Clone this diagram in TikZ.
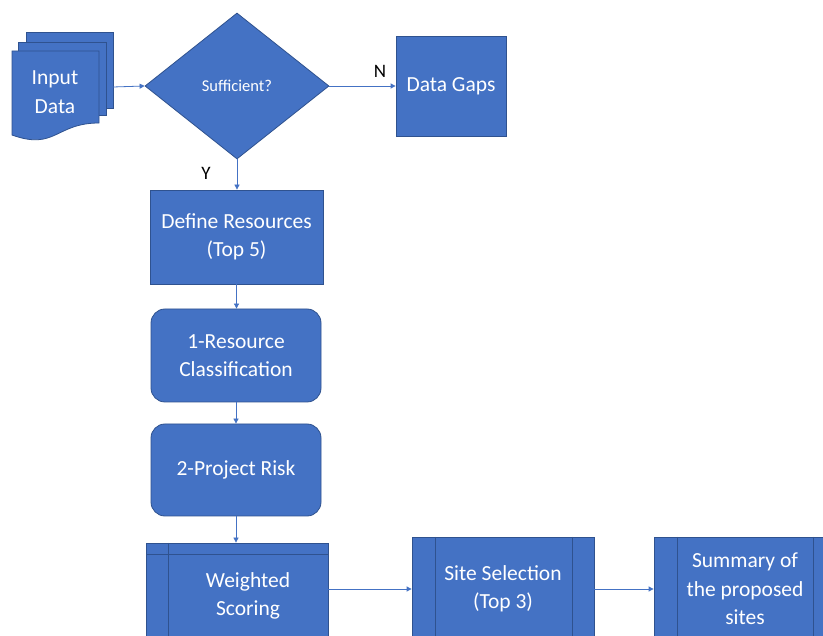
\documentclass[tikz,border=0pt]{standalone}
\usepackage{fontspec}
\setmainfont{Carlito}
\usetikzlibrary{shapes.geometric,arrows.meta}
\definecolor{fillblue}{HTML}{4472C4}
\definecolor{edgeblue}{HTML}{2F528F}
\begin{document}
\begin{tikzpicture}[x=1pt,y=-1pt,
  shapefill/.style={draw=edgeblue,fill=fillblue,line width=0.8pt},
  box/.style={shapefill,text=white,align=center,font=\fontsize{21.5}{28.5}\selectfont,inner sep=0pt},
  txt/.style={text=white,align=center,font=\fontsize{21.5}{28.5}\selectfont,inner sep=0pt},
  conn/.style={draw=fillblue,line width=0.8pt,-{Triangle[length=5pt,width=5pt]}},
  inner/.style={draw=edgeblue,line width=0.8pt},
  lbl/.style={font=\fontsize{19}{22}\selectfont,text=black,inner sep=0pt}
]
\useasboundingbox (0,0) rectangle (823,636);
\clip (0,0) rectangle (823,636);
\fill[white] (0,0) rectangle (823,636);

% Input Data (multidocument)
\path[shapefill] (26,32) rectangle (113,108);
\path[shapefill] (18,42) rectangle (106,115);
\path[shapefill] (12,51) -- (99,51) -- (99,123)
  .. controls (55.5,123) and (55.5,150.7) .. (12,135) -- cycle;
\node[txt] (inp) at (55,92) {Input\\Data};
\coordinate (inpR) at (113,87);

% Decision
\node[shape=diamond,shapefill,minimum width=184,minimum height=146,inner sep=0pt,
  text=white,font=\fontsize{16.5}{19}\selectfont] (dia) at (237,86) {Sufficient?};

% Data gaps
\node[box,minimum width=110,minimum height=100] (gaps) at (451,86) {Data Gaps};

% Define resources
\node[box,minimum width=173,minimum height=94] (def) at (236.5,237) {Define Resources\\(Top 5)};

% Resource classification
\node[box,rounded corners=14pt,minimum width=170,minimum height=93] (rc) at (236,355.5) {1-Resource\\Classification};

% Project risk
\node[box,rounded corners=14pt,minimum width=170,minimum height=92] (pr) at (236,470) {2-Project Risk};

% Weighted scoring (internal storage)
\node[box,minimum width=182,minimum height=100] (ws) at (237,593) {};
\draw[inner] (168,543) -- (168,643);
\draw[inner] (146,554) -- (328,554);
\node[txt] (wst) at (248,596) {Weighted\\Scoring};

% Site selection (predefined process)
\node[box,minimum width=182,minimum height=104] (ss) at (503,589) {Site Selection\\(Top 3)};
\draw[inner] (435,537) -- (435,641);
\draw[inner] (572,537) -- (572,641);

% Summary (predefined process)
\node[box,minimum width=182,minimum height=104] (sum) at (745,589) {Summary of\\the proposed\\sites};
\draw[inner] (677,537) -- (677,641);
\draw[inner] (813,537) -- (813,641);

% Connectors
\draw[conn] (inpR) -- (dia.west);
\draw[conn] (dia.east) -- (gaps.west);
\draw[conn] (dia.south) -- (dia.south |- def.north);
\draw[conn] (def.south) -- (def.south |- rc.north);
\draw[conn] (rc.south) -- (pr.north);
\draw[conn] (pr.south) -- (pr.south |- ws.north);
\draw[conn] (ws.east |- ss.west) -- (ss.west);
\draw[conn] (ss.east) -- (sum.west);

% Labels
\node[lbl] (nlab) at (380,71) {N};
\node[lbl] (ylab) at (206,173) {Y};
\end{tikzpicture}
\end{document}
